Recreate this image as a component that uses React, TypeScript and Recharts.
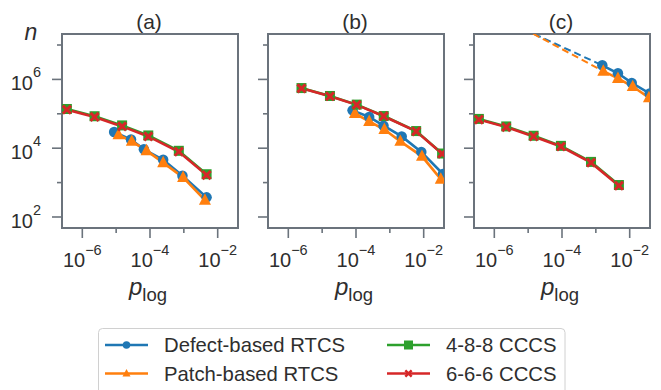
import React from 'react';
import { LineChart, Line, XAxis, YAxis, ReferenceArea } from 'recharts';

// ---- values (p_log, n) ----
const X_DOMAIN = [Math.pow(10, -6.6), Math.pow(10, -1.4)];
const Y_DOMAIN = [Math.pow(10, 1.68), Math.pow(10, 7.32)];
const X_TICKS = [1e-6, 1e-5, 1e-4, 1e-3, 1e-2];
const Y_TICKS = [1e2, 1e3, 1e4, 1e5, 1e6, 1e7];
const PANEL_TITLES = ['(a)', '(b)', '(c)'];
const SERIES_NAMES = ['Defect-based RTCS', 'Patch-based RTCS', '4-8-8 CCCS', '6-6-6 CCCS'];

// (a)
const P_CCCS_A = [3.5e-7, 2.3e-6, 1.5e-5, 8.9e-5, 7.1e-4, 4.7e-3];
const N_488_A = [1.38e5, 8.5e4, 4.6e4, 2.35e4, 8.4e3, 1.75e3];
const N_666_A = [1.32e5, 8.1e4, 4.3e4, 2.2e4, 7.9e3, 1.66e3];
const P_DEFECT_A = [8.7e-6, 2.75e-5, 6.6e-5, 2.45e-4, 9.1e-4, 4.7e-3];
const N_DEFECT_A = [2.95e4, 1.78e4, 9.3e3, 4.6e3, 1.58e3, 372];
const P_PATCH_A = [1.17e-5, 2.9e-5, 7.9e-5, 2.45e-4, 9.5e-4, 4.2e-3];
const N_PATCH_A = [2.45e4, 1.58e4, 8.5e3, 3.8e3, 1.41e3, 309];

// (b)
const P_CCCS_B = [2.45e-6, 1.7e-5, 1.05e-4, 6.6e-4, 6.0e-3, 3.5e-2];
const N_488_B = [5.6e5, 3.3e5, 1.85e5, 8.6e4, 3.15e4, 7.0e3];
const N_666_B = [5.5e5, 3.24e5, 1.82e5, 8.5e4, 3.1e4, 6.9e3];
const P_DEFECT_B = [7.9e-5, 2.45e-4, 6.5e-4, 2.24e-3, 8.5e-3, 3.7e-2];
const N_DEFECT_B = [1.26e5, 8.1e4, 4.5e4, 2.2e4, 7.8e3, 1.78e3];
const P_PATCH_B = [9.3e-5, 2.45e-4, 6.9e-4, 2.04e-3, 8.9e-3, 3.2e-2];
const N_PATCH_B = [1.02e5, 6.0e4, 3.5e4, 1.58e4, 5.8e3, 1.26e3];

// (c)
const P_CCCS_C = [3.5e-7, 2.25e-6, 1.45e-5, 9.3e-5, 7.2e-4, 4.8e-3];
const N_488_C = [7.1e4, 4.3e4, 2.3e4, 1.17e4, 4.0e3, 850];
const N_666_C = [6.8e4, 4.1e4, 2.2e4, 1.12e4, 3.8e3, 813];
const P_DEFECT_C = [1.55e-3, 4.5e-3, 1.15e-2, 3.9e-2];
const N_DEFECT_C = [2.57e6, 1.51e6, 7.9e5, 3.9e5];
const P_PATCH_C = [1.66e-3, 4.5e-3, 1.23e-2, 3.7e-2];
const N_PATCH_C = [1.74e6, 1.07e6, 6.2e5, 2.95e5];
// dashed extrapolations in (c)
const P_FIT_DEFECT_C = [1e-6, 1.55e-3];
const N_FIT_DEFECT_C = [7.1e7, 2.57e6];
const P_FIT_PATCH_C = [1e-6, 1.66e-3];
const N_FIT_PATCH_C = [8.5e7, 1.74e6];

const BLUE = '#1f77b4';
const ORANGE = '#ff7f0e';
const GREEN = '#2ca02c';
const RED = '#d62728';
const FRAME = '#6b737c';
const TEXT = '#2e2e2e';
const FONT = '"Liberation Sans", Arial, sans-serif';

const zip = (ps: number[], ns: number[]) => ps.map((p, i) => ({ p, n: ns[i] }));

const PANELS = [
  { left: 62, labels: true, defect: zip(P_DEFECT_A, N_DEFECT_A), patch: zip(P_PATCH_A, N_PATCH_A), c488: zip(P_CCCS_A, N_488_A), c666: zip(P_CCCS_A, N_666_A) },
  { left: 268, labels: false, defect: zip(P_DEFECT_B, N_DEFECT_B), patch: zip(P_PATCH_B, N_PATCH_B), c488: zip(P_CCCS_B, N_488_B), c666: zip(P_CCCS_B, N_666_B) },
  {
    left: 474, labels: false, defect: zip(P_DEFECT_C, N_DEFECT_C), patch: zip(P_PATCH_C, N_PATCH_C), c488: zip(P_CCCS_C, N_488_C), c666: zip(P_CCCS_C, N_666_C),
    fitDefect: zip(P_FIT_DEFECT_C, N_FIT_DEFECT_C), fitPatch: zip(P_FIT_PATCH_C, N_FIT_PATCH_C),
  },
];

const PLOT_W = 176;
const PLOT_TOP = 34;
const PLOT_H = 194;

// markers
const circle = (cx: number, cy: number, s: number, color: string, key?: any) => <circle key={key} cx={cx} cy={cy} r={s / 2} fill={color} />;
const triangle = (cx: number, cy: number, s: number, color: string, key?: any) => {
  const h = s / 2;
  return <polygon key={key} points={`${cx},${cy - h * 1.15} ${cx - h},${cy + h * 0.75} ${cx + h},${cy + h * 0.75}`} fill={color} />;
};
const square = (cx: number, cy: number, s: number, color: string, key?: any) => <rect key={key} x={cx - s / 2} y={cy - s / 2} width={s} height={s} fill={color} />;
const cross = (cx: number, cy: number, s: number, color: string, key?: any) => {
  const h = s / 2 * 1.2;
  const w = s * 0.16;
  const pts = [[w, h], [w, w], [h, w], [h, -w], [w, -w], [w, -h], [-w, -h], [-w, -w], [-h, -w], [-h, w], [-w, w], [-w, h]];
  const c = Math.SQRT1_2;
  const str = pts.map(([a, b]) => `${cx + (a - b) * c},${cy + (a + b) * c}`).join(' ');
  return <polygon key={key} points={str} fill={color} />;
};

const dotOf = (fn: any, s: number, color: string) => (props: any) => {
  if (props.cx == null || props.cy == null) return <g key={`e-${props.index}`} />;
  return fn(props.cx, props.cy, s, color, `d-${props.index}`);
};

const XTick = (props: any) => {
  const { x, y, payload, showLabel } = props;
  const e = Math.round(Math.log10(payload.value));
  const major = e % 2 === 0;
  return (
    <g>
      <line x1={x} x2={x} y1={y} y2={y + (major ? 10 : 5)} stroke={FRAME} strokeWidth={1.6} />
      {major && showLabel && (
        <text x={x} y={y + 39} textAnchor="middle" fontSize={20} fill={TEXT} fontFamily={FONT}>
          10<tspan dy={-12} fontSize={14.5}>{`\u2212${-e}`}</tspan>
        </text>
      )}
    </g>
  );
};

const YTick = (props: any) => {
  const { x, y, payload, showLabel } = props;
  const e = Math.round(Math.log10(payload.value));
  const major = e % 2 === 0;
  return (
    <g>
      <line x1={x - (major ? 10 : 5)} x2={x} y1={y} y2={y} stroke={FRAME} strokeWidth={1.6} />
      {major && showLabel && (
        <text x={x - 21} y={y + 11} textAnchor="end" fontSize={20} fill={TEXT} fontFamily={FONT}>
          10<tspan dy={-13} fontSize={14.5}>{e}</tspan>
        </text>
      )}
    </g>
  );
};

function Panel({ panel }: any) {
  const common = { dataKey: 'n', type: 'linear' as const, isAnimationActive: false, activeDot: false, legendType: 'none' as const };
  return (
    <div style={{ position: 'absolute', left: panel.left - 62, top: 0 }}>
      <LineChart width={62 + PLOT_W + 10} height={PLOT_TOP + PLOT_H + 50} margin={{ top: PLOT_TOP, right: 10, bottom: 0, left: 12 }}>
        <XAxis type="number" dataKey="p" scale="log" domain={X_DOMAIN} allowDataOverflow ticks={X_TICKS} interval={0}
          tick={(p: any) => <XTick {...p} showLabel />} tickLine={false} axisLine={false} tickSize={0} tickMargin={0} height={50} />
        <YAxis type="number" dataKey="n" scale="log" domain={Y_DOMAIN} allowDataOverflow ticks={Y_TICKS} interval={0}
          tick={(p: any) => <YTick {...p} showLabel={panel.labels} />} tickLine={false} axisLine={false} tickSize={0} tickMargin={0} width={50} />
        {panel.fitDefect && <Line {...common} data={panel.fitDefect} stroke={BLUE} strokeWidth={2} strokeDasharray="7 4" dot={false} />}
        <Line {...common} data={panel.defect} stroke={BLUE} strokeWidth={2.6} dot={dotOf(circle, 10.5, BLUE)} />
        {panel.fitPatch && <Line {...common} data={panel.fitPatch} stroke={ORANGE} strokeWidth={2} strokeDasharray="7 4" dot={false} />}
        <Line {...common} data={panel.patch} stroke={ORANGE} strokeWidth={2.6} dot={dotOf(triangle, 12, ORANGE)} />
        <Line {...common} data={panel.c488} stroke={GREEN} strokeWidth={2.6} dot={dotOf(square, 10, GREEN)} />
        <Line {...common} data={panel.c666} stroke={RED} strokeWidth={2.6} dot={dotOf(cross, 9.5, RED)} />
        <ReferenceArea x1={X_DOMAIN[0]} x2={X_DOMAIN[1]} y1={Y_DOMAIN[0]} y2={Y_DOMAIN[1]} fill="none" stroke={FRAME} strokeWidth={2} ifOverflow="visible" />
      </LineChart>
    </div>
  );
}

const LEGEND = [
  { name: SERIES_NAMES[0], color: BLUE, marker: circle, size: 7.5, col: 0, row: 0 },
  { name: SERIES_NAMES[1], color: ORANGE, marker: triangle, size: 8, col: 0, row: 1 },
  { name: SERIES_NAMES[2], color: GREEN, marker: square, size: 9, col: 1, row: 0 },
  { name: SERIES_NAMES[3], color: RED, marker: cross, size: 7.5, col: 1, row: 1 },
];

export default function App() {
  return (
    <div style={{ position: 'absolute', left: 0, top: 0, width: 661, height: 390, background: '#fff', overflow: 'hidden' }}>
      {PANELS.map((panel, i) => <Panel key={i} panel={panel} />)}
      <svg width={661} height={390} style={{ position: 'absolute', left: 0, top: 0, pointerEvents: 'none' }}>
        {PANELS.map((panel, i) => {
          const cx = panel.left + PLOT_W / 2;
          return (
            <g key={i} fontFamily={FONT} fill={TEXT}>
              <text x={cx - 1} y={29} textAnchor="middle" fontSize={21}>{PANEL_TITLES[i]}</text>
              <text x={cx - 2} y={295} textAnchor="middle">
                <tspan fontSize={24} fontStyle="italic">p</tspan>
                <tspan fontSize={18.5} dy={6}>log</tspan>
              </text>
            </g>
          );
        })}
        <text x={31} y={40} textAnchor="middle" fontSize={23} fontStyle="italic" fontFamily={FONT} fill={TEXT}>n</text>
        <rect x={98.5} y={328.5} width={466.5} height={90} rx={4} fill="#fff" stroke="#d0d0d0" strokeWidth={1} />
        {LEGEND.map((item, i) => {
          const x0 = item.col === 0 ? 105 : 387;
          const y = item.row === 0 ? 345 : 373.5;
          return (
            <g key={i}>
              <line x1={x0} x2={x0 + 43} y1={y} y2={y} stroke={item.color} strokeWidth={2.5} />
              {item.marker(x0 + 21.5, y, item.size, item.color)}
              <text x={x0 + 59} y={y + 7} fontSize={20.3} fontFamily={FONT} fill={TEXT}>{item.name}</text>
            </g>
          );
        })}
      </svg>
    </div>
  );
}
